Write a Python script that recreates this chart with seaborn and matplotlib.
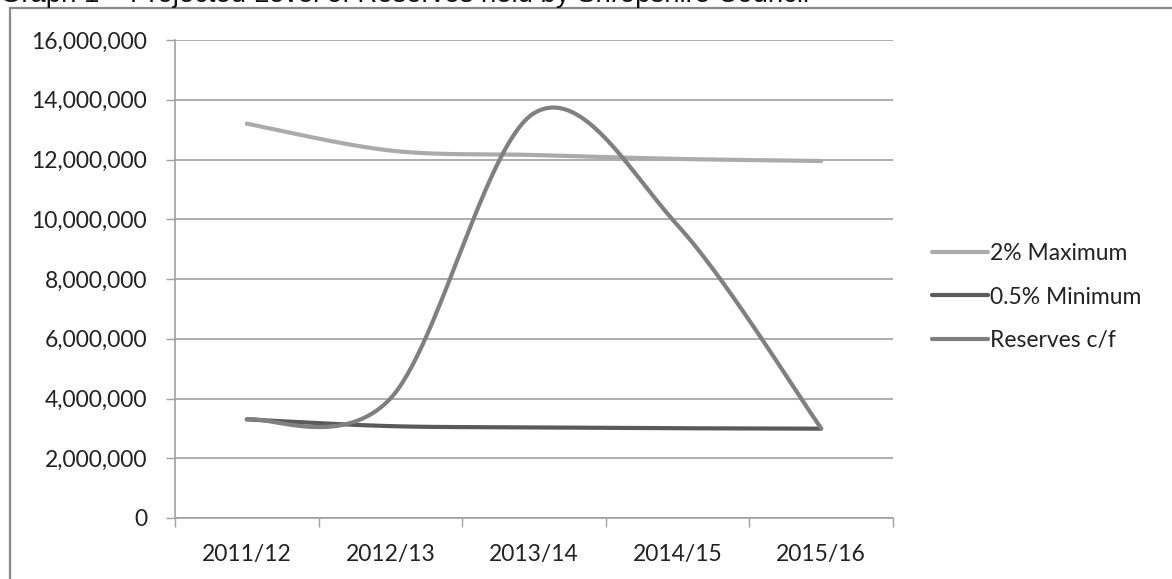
import numpy as np
import pandas as pd
import matplotlib
matplotlib.use("Agg")
import matplotlib.pyplot as plt
from matplotlib.lines import Line2D
from matplotlib.ticker import FuncFormatter
import seaborn as sns

# Financial years on the category axis
years = ["2011/12", "2012/13", "2013/14", "2014/15", "2015/16"]

# Projected reserve thresholds and balances (GBP)
maximum_2pct = [13200000, 12300000, 12150000, 12020000, 11950000]
minimum_05pct = [3300000, 3075000, 3035000, 3005000, 2990000]
reserves_cf = [3300000, 4000000, 13550000, 9800000, 3000000]

series_names = ["2% Maximum", "0.5% Minimum", "Reserves c/f"]
series_values = [maximum_2pct, minimum_05pct, reserves_cf]
series_colors = ["#ababab", "#5a5a5a", "#808080"]


def smooth_curve(ys, steps=60):
    """Spreadsheet-style smoothed line: cubic Bezier segments with
    Catmull-Rom control points (one-sixth tangent rule)."""
    xs = np.arange(len(ys), dtype=float)
    ys = np.asarray(ys, dtype=float)
    pts = np.column_stack([xs, ys])
    n = len(pts)
    out = [pts[0]]
    t = np.linspace(0, 1, steps)[1:, None]
    for i in range(n - 1):
        p0 = pts[max(i - 1, 0)]
        p1 = pts[i]
        p2 = pts[i + 1]
        p3 = pts[min(i + 2, n - 1)]
        c1 = p1 + (p2 - p0) / 6.0
        c2 = p2 - (p3 - p1) / 6.0
        seg = ((1 - t) ** 3) * p1 + 3 * ((1 - t) ** 2) * t * c1 \
            + 3 * (1 - t) * t ** 2 * c2 + t ** 3 * p2
        out.extend(seg)
    out = np.array(out)
    return out[:, 0], out[:, 1]


frames = []
for name, vals in zip(series_names, series_values):
    sx, sy = smooth_curve(vals)
    frames.append(pd.DataFrame({"x": sx, "value": sy, "series": name}))
df = pd.concat(frames, ignore_index=True)

sns.set_theme(style="white")
plt.rcParams["font.family"] = ["Lato", "DejaVu Sans"]

W, H = 1172, 579
fig = plt.figure(figsize=(W / 100, H / 100), dpi=100)
fig.patch.set_facecolor("white")

left, right, top, bottom = 175, 893, 40, 518
ax = fig.add_axes([left / W, 1 - bottom / H, (right - left) / W, (bottom - top) / H])
ax.set_facecolor("white")

sns.lineplot(data=df, x="x", y="value", hue="series", hue_order=series_names,
             palette=series_colors, sort=False, estimator=None, units="series",
             linewidth=3.0, ax=ax, legend=False)

ax.set_xlim(-0.5, len(years) - 0.5)
ax.set_ylim(0, 16000000)
ax.set_yticks(np.arange(0, 16000001, 2000000))
ax.yaxis.set_major_formatter(FuncFormatter(lambda v, p: f"{int(v):,}"))
ax.set_xticks(np.arange(len(years)))
ax.set_xticklabels(years)
ax.set_xticks(np.arange(len(years) + 1) - 0.5, minor=True)
ax.set_xlabel("")
ax.set_ylabel("")

grid_c = "#a0a0a0"
ax.yaxis.grid(True, color=grid_c, linewidth=1.2)
ax.xaxis.grid(False)
ax.set_axisbelow(True)
for s in ["top", "right"]:
    ax.spines[s].set_visible(False)
for s in ["left", "bottom"]:
    ax.spines[s].set_color(grid_c)
    ax.spines[s].set_linewidth(1.2)

ax.tick_params(axis="y", which="major", left=True, length=6.5, width=1.0,
               color=grid_c, pad=13.5, labelsize=16.5, labelcolor="#222222")
ax.tick_params(axis="x", which="major", bottom=False, pad=13, labelsize=16.5,
               labelcolor="#222222")
ax.tick_params(axis="x", which="minor", bottom=True, length=6.5, width=1.0,
               color=grid_c)

handles = [Line2D([], [], color=c, linewidth=3.0) for c in series_colors]
fig.legend(handles, series_names, loc="center left",
           bbox_to_anchor=(932 / W, 1 - 297 / H), frameon=False,
           fontsize=16.5, handlelength=2.45, handletextpad=0.1,
           labelspacing=1.0, borderpad=0, borderaxespad=0,
           labelcolor="#222222")

# Chart frame (left and top edges)
frame_c = "#8a8a8a"
fig.add_artist(Line2D([10 / W, 10 / W], [0, 1 - 8 / H], transform=fig.transFigure,
                      color=frame_c, linewidth=1.6))
fig.add_artist(Line2D([10 / W, 1], [1 - 8 / H, 1 - 8 / H], transform=fig.transFigure,
                      color=frame_c, linewidth=1.6))

fig.text(0.0 / W, 1 - 1.5 / H,
         "Graph 1 \u2013 Projected Level of Reserves held by Shropshire Council",
         fontsize=19.8, family=["Liberation Sans", "DejaVu Sans"],
         color="#111111", ha="left", va="baseline")

fig.savefig("out.png", dpi=100, facecolor="white")
